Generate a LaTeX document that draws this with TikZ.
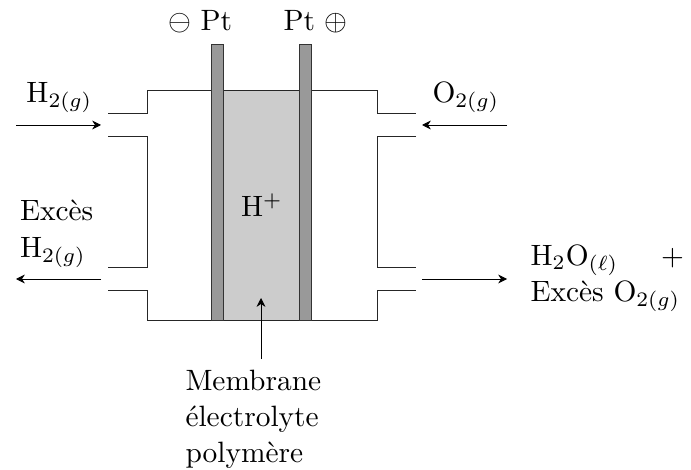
\documentclass[tikz,border=0pt]{standalone}
\usetikzlibrary{arrows.meta}
\tikzset{
  wall/.style={draw=black!85,line width=0.34pt},
  electrode/.style={draw=black!80,fill=black!40,line width=0.34pt},
  membrane/.style={fill=black!20,draw=none},
  flow/.style={-{Stealth[length=3pt,width=3pt]},line width=0.3pt},
  lbl/.style={inner sep=0pt,outer sep=0pt,anchor=base west,align=left}
}
\begin{document}
\begin{tikzpicture}[x=0.34pt,y=-0.34pt]
\useasboundingbox (0,0) rectangle (691,470);
\fill[white] (0,0) rectangle (691,470);
\fill[membrane] (223,90.5) rectangle (299,320);
% walls
\draw[wall] (108,113.5) -- (147,113.5) -- (147,90.5) -- (377,90.5) -- (377,113.5) -- (416,113.5);
\draw[wall] (108,136.5) -- (147,136.5) -- (147,267) -- (108,267);
\draw[wall] (416,136.5) -- (377,136.5) -- (377,267) -- (416,267);
\draw[wall] (108,290) -- (147,290) -- (147,320.5) -- (377,320.5) -- (377,290) -- (416,290);
% electrodes
\draw[electrode] (211.5,44.5) rectangle (223,320.5);
\draw[electrode] (299.5,44.5) rectangle (311,320.5);
% free ends of the connectors
\coordinate (h2in) at (16,125);
\coordinate (h2inend) at (101,125);
\coordinate (o2in) at (507,125);
\coordinate (o2inend) at (422,125);
\coordinate (h2out) at (101,279);
\coordinate (h2outend) at (16,279);
\coordinate (eauout) at (422,279);
\coordinate (eauoutend) at (507,279);
\coordinate (membfrom) at (261,359);
\coordinate (membto) at (261,298);
\draw[flow] (h2in) -- (h2inend);
\draw[flow] (o2in) -- (o2inend);
\draw[flow] (h2out) -- (h2outend);
\draw[flow] (eauout) -- (eauoutend);
\draw[flow] (membfrom) -- (membto);
% labels
\node[lbl] (moins) at (168,31) {$\ominus$ Pt};
\node[lbl] (plus) at (283.5,31) {Pt $\oplus$};
\node[lbl] (hi) at (26.5,102.5) {H$_{2(g)}$};
\node[lbl] (oi) at (432.5,102.5) {O$_{2(g)}$};
\node[lbl] (exces) at (20,220) {Excès};
\node[lbl] (ho) at (20,257) {H$_{2(g)}$};
\node[lbl] (hp) at (241,217) {H$^{+}$};
\node[lbl] (eau) at (530.5,265.5) {H$_2$O$_{(\ell)}$};
\node[lbl] (pl) at (661,265.5) {+};
\node[lbl] (eo) at (530.5,301) {Excès O$_{2(g)}$};
\node[lbl] (m1) at (185.5,390) {Membrane};
\node[lbl] (m2) at (185.5,426.5) {électrolyte};
\node[lbl] (m3) at (185.5,462.5) {polymère};
\end{tikzpicture}
\end{document}
